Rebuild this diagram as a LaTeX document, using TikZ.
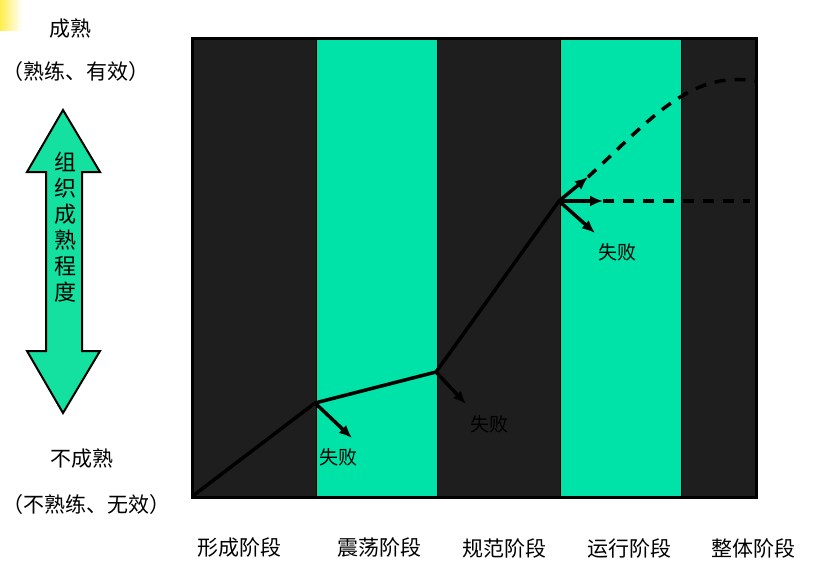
\documentclass[tikz,border=0pt]{standalone}
\usepackage{fontspec}
\newfontfamily\cjk{Noto Sans CJK SC}
\usetikzlibrary{arrows.meta}
\definecolor{stagedark}{RGB}{30,30,30}
\definecolor{stagegreen}{RGB}{0,227,168}
\definecolor{scalegreen}{RGB}{20,224,160}

\begin{document}
\begin{tikzpicture}[x=1pt,y=-1pt,font=\cjk\fontsize{21}{24}\selectfont,darkcol/.style={fill=stagedark,draw=black,line width=0.8pt},greencol/.style={fill=stagegreen,draw=black,line width=0.8pt},path/.style={line width=3.5pt,line cap=round,line join=round},arr/.style={-{Latex[length=13pt,width=11pt]}, line width=3.5pt},trend/.style={line width=3.5pt,dash pattern=on 11pt off 9pt},fail/.style={font=\cjk\fontsize{19}{22}\selectfont},stage/.style={font=\cjk\fontsize{21}{24}\selectfont}]
\useasboundingbox (0,0) rectangle (816,574);
\shade[left color=yellow!80!orange!70, right color=white] (0,0) rectangle (22,30);
% stage columns
\draw[darkcol] (193,38) rectangle (316,497);\draw[greencol] (316,38) rectangle (437,497);\draw[darkcol] (437,38) rectangle (560,497);\draw[greencol] (560,38) rectangle (681,497);\draw[darkcol] (681,38) rectangle (755,497);
\draw[line width=3pt] (192,38) rectangle (756,497);
% maturity scale
\node (top) at (70,29){成熟};
\node (topnote) at (76,72){（熟练、有效）};
\draw[fill=scalegreen,line width=2pt,line join=miter] (63,110) -- (100,172) -- (82,172) -- (82,351) -- (100,351) -- (63,413) -- (27,351) -- (46,351) -- (46,172) -- (27,172) -- cycle;
\node[align=center,font=\cjk\fontsize{22}{26}\selectfont] (scale) at (65,227){组\\织\\成\\熟\\程\\度};
\node (bottom) at (82,459){不成熟};
\node (bottomnote) at (86,505){（不熟练、无效）};
% development path
\coordinate (p0) at (194,495);\coordinate (p1) at (315,403);\coordinate (p2) at (436,372);\coordinate (p3) at (559,201);
\coordinate (f1) at (352,438);\coordinate (f2) at (466,404);\coordinate (f3) at (595,233);
\coordinate (up) at (588,177);\coordinate (flat) at (603,201);\coordinate (flatend) at (750,201);\coordinate (peak) at (755,81);
\draw[path] (p0) -- (p1) -- (p2) -- (p3);
\draw[arr] (p1) -- (f1);\draw[arr] (p2) -- (f2);\draw[arr] (p3) -- (f3);\draw[arr] (p3) -- (up);\draw[arr] (p3) -- (flat);
\draw[trend] (flat) -- (flatend);
\draw[trend] (up) .. controls (650,120) and (690,70) .. (peak);
\node[fail] (fail1) at (338,457){失败};
\node[fail] (fail2) at (489,424){失败};
\node[fail] (fail3) at (617,252){失败};
% stage labels
\node[stage] (s1) at (239,548){形成阶段};
\node[stage] (s2) at (379,548){震荡阶段};
\node[stage] (s3) at (504,548){规范阶段};
\node[stage] (s4) at (629,548){运行阶段};
\node[stage] (s5) at (753,548){整体阶段};
\end{tikzpicture}
\end{document}
